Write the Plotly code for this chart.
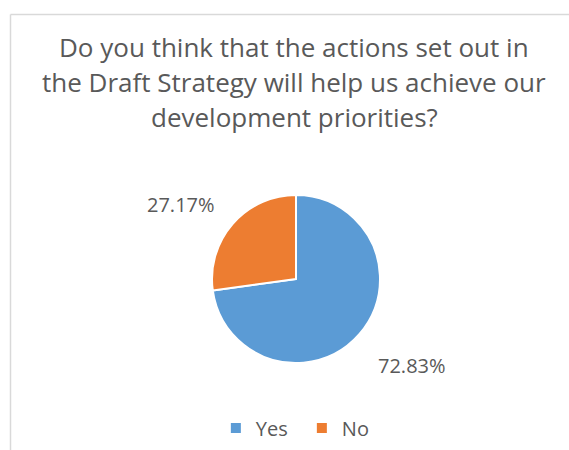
import plotly.graph_objects as go

# Survey responses
labels = ["Yes", "No"]
shares = [72.83, 27.17]
colors = ["#5B9BD5", "#ED7D31"]

title_lines = [
    "Do you think that the actions set out in",
    "the Draft Strategy will help us achieve our",
    "development priorities?",
]

W, H = 569, 450
FONT = "Open Sans"
GREY = "#595959"

fig = go.Figure()
fig.add_trace(go.Pie(
    labels=labels,
    values=shares,
    marker=dict(colors=colors, line=dict(color="white", width=2)),
    textinfo="none",
    sort=False,
    direction="clockwise",
    rotation=0,
    hoverinfo="label+percent",
    domain=dict(x=[212 / W, 380 / W], y=[1 - 363 / H, 1 - 195 / H]),
))

# percentage labels beside each slice
label_pos = {"Yes": (412, 365), "No": (181, 204)}
total = sum(shares)
annotations = []
for lab, v in zip(labels, shares):
    px, py = label_pos[lab]
    annotations.append(dict(
        x=px / W, y=1 - py / H, xref="paper", yref="paper",
        text=f"{v / total * 100:.2f}%", showarrow=False,
        font=dict(family=FONT, size=20, color=GREY),
        xanchor="center", yanchor="middle",
    ))

# chart title, one line at a time
for i, line in enumerate(title_lines):
    annotations.append(dict(
        x=294 / W, y=1 - (47 + i * 35) / H, xref="paper", yref="paper",
        text=line, showarrow=False,
        font=dict(family=FONT, size=26, color=GREY),
        xanchor="center", yanchor="middle",
    ))

fig.update_layout(
    width=W, height=H,
    margin=dict(l=0, r=0, t=0, b=0),
    paper_bgcolor="white", plot_bgcolor="white",
    annotations=annotations,
    showlegend=True,
    legend=dict(
        orientation="h", x=0.5305, xanchor="center", y=1 - 428 / H, yanchor="middle",
        font=dict(family=FONT, size=20, color=GREY),
        itemwidth=30, traceorder="normal", entrywidth=41,
    ),
    shapes=[
        dict(type="line", xref="paper", yref="paper",
             x0=10.5 / W, x1=1.0, y0=1 - 14.5 / H, y1=1 - 14.5 / H,
             line=dict(color="#D9D9D9", width=1.5)),
        dict(type="line", xref="paper", yref="paper",
             x0=10.5 / W, x1=10.5 / W, y0=0, y1=1 - 14.5 / H,
             line=dict(color="#D9D9D9", width=1.5)),
    ],
)

fig.write_html("out.html")
